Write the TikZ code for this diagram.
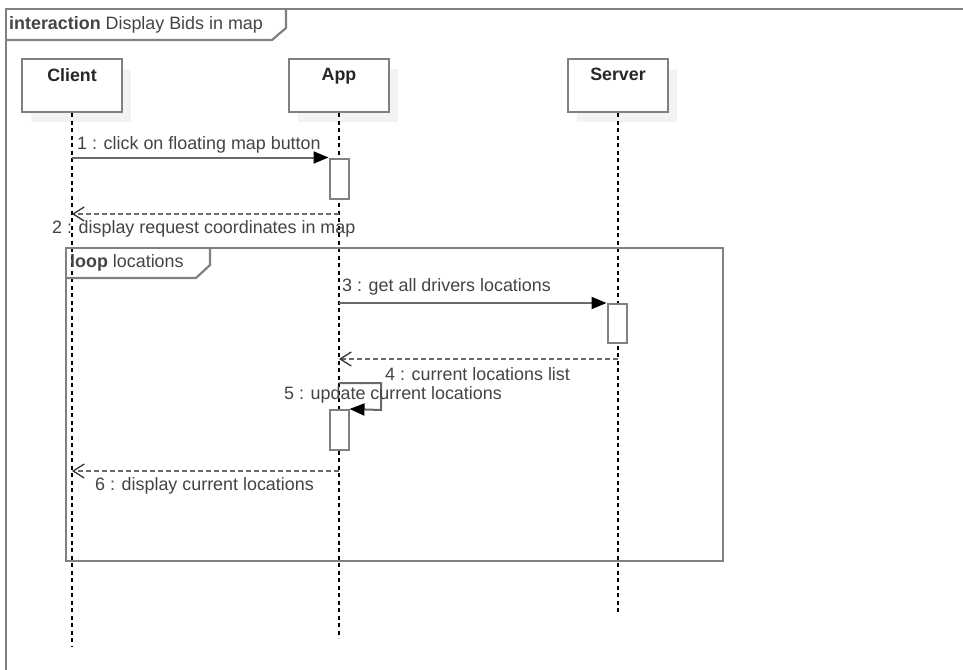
\documentclass[tikz,border=0pt]{standalone}
\usepackage{fontspec}
\setmainfont{Liberation Sans}
\usetikzlibrary{arrows.meta,shadows}

\definecolor{linegray}{HTML}{808080}
\definecolor{msggray}{HTML}{6A6A6A}
\definecolor{txtgray}{HTML}{444444}
\definecolor{shadowgray}{HTML}{F3F3F3}

\tikzset{
  frameline/.style={draw=linegray, line width=2.2pt},
  head/.style={draw=linegray, line width=2pt, fill=white, minimum width=100pt,
    minimum height=53pt, inner sep=0pt,
    drop shadow={shadow xshift=9pt, shadow yshift=-10pt, fill=shadowgray, opacity=1}},
  headtxt/.style={font=\fontsize{17.8}{20}\selectfont\bfseries, text=black!85, inner sep=0pt},
  act/.style={draw=linegray, line width=2pt, fill=white, minimum width=19pt, inner sep=0pt},
  lifeline/.style={draw=black, line width=1.4pt, dash pattern=on 4pt off 3.5pt},
  sync/.style={draw=msggray, line width=2pt,
    -{Triangle[length=15pt,width=12pt,fill=black,color=black]}},
  reply/.style={draw=msggray, line width=2pt, dash pattern=on 5pt off 3pt,
    -{Straight Barb[length=11pt,width=14pt,line width=1.3pt,color=black!80]}},
  msgtxt/.style={font=\fontsize{17.9}{20}\selectfont, text=txtgray, inner sep=0pt, anchor=west},
}

\begin{document}
\begin{tikzpicture}[x=1pt,y=-1pt]
\useasboundingbox[fill=white] (0,0) rectangle (963,669);

% diagram frame and its title tab
\draw[frameline] (966,9) -- (6,9) -- (6,672);
\draw[frameline] (6,40) -- (272,40) -- (286,28) -- (286,9);
\node[msgtxt] (title) at (9,25) {\textbf{interaction} Display Bids in map};

% lifeline heads
\node[head, label={[headtxt, anchor=north, yshift=-10pt]north:Client}] (client) at (72,85.5) {};
\node[head, label={[headtxt, anchor=north, yshift=-10pt]north:App}] (app) at (339,85.5) {};
\node[head, label={[headtxt, anchor=north, yshift=-10pt]north:Server}] (server) at (618,85.5) {};

% lifeline ends
\coordinate (clientEnd) at (72,647);
\coordinate (appEnd) at (339,638);
\coordinate (serverEnd) at (618,612);

\draw[lifeline] (client.south) -- (clientEnd);
\draw[lifeline] (app.south) -- (appEnd);
\draw[lifeline] (server.south) -- (serverEnd);

% activation bars
\node[act, minimum height=40pt] (actA) at (339,178.5) {};
\node[act, minimum height=39pt] (actS) at (617,323.5) {};
\node[act, minimum height=40pt] (actB) at (339,430) {};

% loop combined fragment
\draw[frameline] (66,248) rectangle (723,561);
\draw[frameline] (66,278) -- (196,278) -- (210,265) -- (210,248);
\node[msgtxt] (looplbl) at (70,263) {\textbf{loop} locations};

% message 1
\draw[sync] (client.south |- actA.north west) -- (actA.north west);
\node[msgtxt] (m1) at (77,145) {1 : click on floating map button};

% message 2
\coordinate (r2a) at (app.south |- 0,214);
\coordinate (r2b) at (client.south |- 0,214);
\draw[reply] (r2a) -- (r2b);
\node[msgtxt] (m2) at (52,228.5) {2 : display request coordinates in map};

% message 3
\draw[sync] (app.south |- actS.north west) -- (actS.north west);
\node[msgtxt] (m3) at (342,287) {3 : get all drivers locations};

% message 4
\coordinate (r4a) at (server.south |- 0,359);
\coordinate (r4b) at (app.south |- 0,359);
\draw[reply] (r4a) -- (r4b);
\node[msgtxt] (m4) at (385,374) {4 : current locations list};

% message 5 (self call)
\coordinate (s5a) at (app.south |- 0,383);
\draw[sync] (s5a) -- (381,383) -- (381,410) -- (actB.north east);
\node[msgtxt] (m5) at (284,395) {5 : update current locations};

% message 6
\coordinate (r6a) at (app.south |- 0,471);
\coordinate (r6b) at (client.south |- 0,471);
\draw[reply] (r6a) -- (r6b);
\node[msgtxt] (m6) at (95,486) {6 : display current locations};
\end{tikzpicture}
\end{document}
